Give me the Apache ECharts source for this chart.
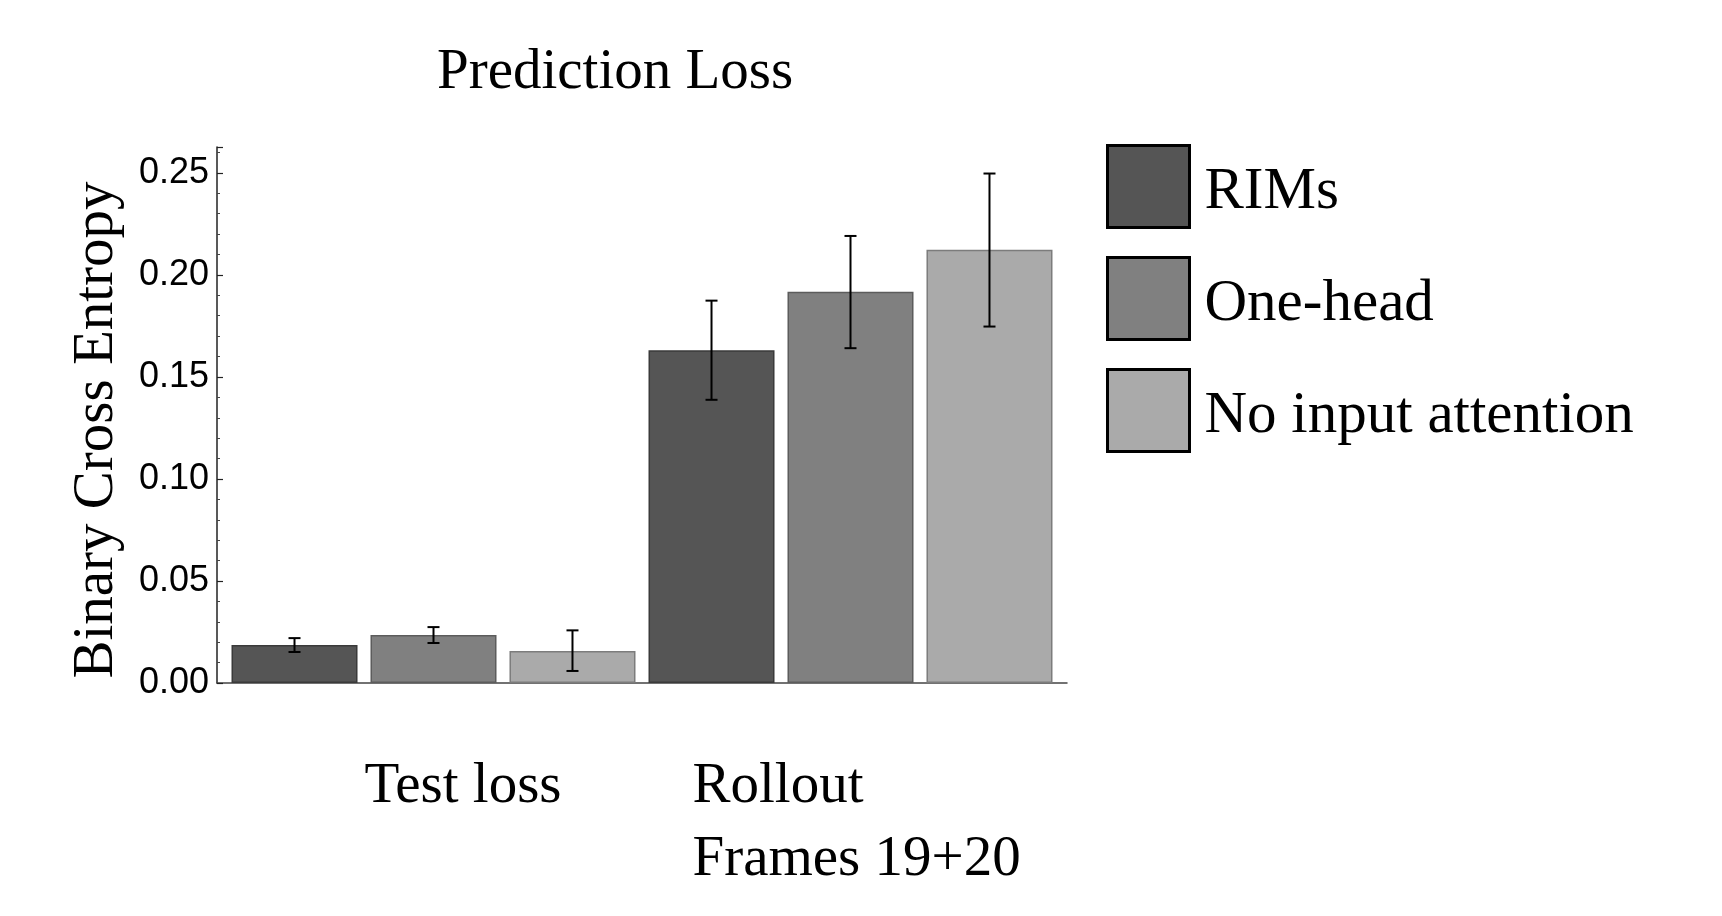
<!DOCTYPE html>
<html>
<head>
<meta charset="utf-8">
<script src="https://cdn.jsdelivr.net/npm/echarts@6/dist/echarts.min.js"></script>
<style>
  html, body { margin: 0; padding: 0; background: #fff; }
  #chart { width: 1722px; height: 916px; }
</style>
</head>
<body>
<div id="chart"></div>
<script>
// data
var categories = ['Test loss', 'Rollout\nFrames 19+20'];
var seriesNames = ['RIMs', 'One-head', 'No input attention'];
var rims = [0.0186, 0.1631];
var oneHead = [0.0235, 0.1917];
var noInput = [0.0157, 0.2123];
// error bar ends
var rimsLow = [0.0152, 0.1388], rimsHigh = [0.0220, 0.1874];
var oneHeadLow = [0.0196, 0.1641], oneHeadHigh = [0.0274, 0.2191];
var noInputLow = [0.0059, 0.1747], noInputHigh = [0.0258, 0.2497];
var yTicks = [0, 0.05, 0.10, 0.15, 0.20, 0.25];

var serif = 'Liberation Serif';
var sans = 'Liberation Sans';
var colors = ['#555555', '#808080', '#aaaaaa'];
var borders = ['#3a3a3a', '#5c5c5c', '#7c7c7c'];
var catGap = 0.0312, barGap = 0.103; // bar layout, also used by error bars
var yMax = 0.2627;

var values = [rims, oneHead, noInput];
var lows = [rimsLow, oneHeadLow, noInputLow];
var highs = [rimsHigh, oneHeadHigh, noInputHigh];

var series = [];
values.forEach(function (vals, i) {
    series.push({
        name: seriesNames[i],
        type: 'bar',
        xAxisIndex: 0,
        yAxisIndex: 0,
        data: vals,
        barGap: (barGap * 100) + '%',
        barCategoryGap: (catGap * 100) + '%',
        itemStyle: { color: colors[i], borderColor: borders[i], borderWidth: 1.5 },
        emphasis: { disabled: true },
        z: 2
    });
});
// error bars, drawn over the bars
values.forEach(function (vals, i) {
    var rows = vals.map(function (v, c) { return [c, lows[i][c], highs[i][c]]; });
    series.push({
        name: 'err' + i,
        type: 'custom',
        xAxisIndex: 0,
        yAxisIndex: 0,
        data: rows,
        z: 5,
        renderItem: function (params, api) {
            var c = api.value(0);
            var lo = api.coord([c, api.value(1)]);
            var hi = api.coord([c, api.value(2)]);
            var catW = api.size([1, 0])[0];
            var band = catW * (1 - catGap);
            var w = band / (3 + 2 * barGap);
            var x = lo[0] - band / 2 + w / 2 + i * (w + barGap * w);
            var cap = 6;
            var st = { stroke: '#000', lineWidth: 2 };
            return {
                type: 'group',
                children: [
                    { type: 'line', shape: { x1: x, y1: lo[1], x2: x, y2: hi[1] }, style: st },
                    { type: 'line', shape: { x1: x - cap, y1: lo[1], x2: x + cap, y2: lo[1] }, style: st },
                    { type: 'line', shape: { x1: x - cap, y1: hi[1], x2: x + cap, y2: hi[1] }, style: st }
                ]
            };
        }
    });
});

var option = {
    backgroundColor: '#fff',
    animation: false,
    title: {
        text: 'Prediction Loss',
        left: 432,
        top: 40,
        textStyle: { fontFamily: serif, fontSize: 57, fontWeight: 'normal', color: '#000' }
    },
    legend: {
        data: seriesNames,
        orient: 'vertical',
        left: 1101,
        top: 139,
        itemWidth: 82,
        itemHeight: 82,
        itemGap: 27,
        icon: 'rect',
        selectedMode: false,
        itemStyle: { borderColor: '#000', borderWidth: 3 },
        formatter: '{n|{name}}',
        textStyle: {
            fontFamily: serif, fontSize: 59, color: '#000',
            rich: { n: { fontFamily: serif, fontSize: 59, color: '#000', padding: [12, 0, 0, 10] } }
        }
    },
    grid: [
        // bars
        { left: 225, width: 834, top: 147, bottom: 233, containLabel: false },
        // axis frame
        { left: 217, width: 850, top: 147, bottom: 233, containLabel: false }
    ],
    xAxis: [
        {
            type: 'category',
            gridIndex: 0,
            data: categories,
            axisLine: { show: false },
            axisTick: { show: false },
            axisLabel: {
                interval: 0,
                margin: 68,
                fontFamily: serif,
                fontSize: 57,
                color: '#000',
                formatter: function (v, idx) {
                    if (idx === 0) return '{t|' + v + '}';
                    var p = v.split('\n');
                    return '{r|' + p[0] + '}\n{r|' + p[1] + '}';
                },
                rich: {
                    t: { fontFamily: serif, fontSize: 57, color: '#000', lineHeight: 73, padding: [0, 0, 0, 59] },
                    r: { fontFamily: serif, fontSize: 57, color: '#000', lineHeight: 73, width: 335, align: 'left', padding: [0, 0, 0, 19] }
                }
            }
        },
        {
            type: 'value',
            gridIndex: 1,
            min: 0,
            max: 1,
            axisLine: { show: true, lineStyle: { color: '#444', width: 1.5 } },
            axisTick: { show: false },
            axisLabel: { show: false },
            splitLine: { show: false }
        }
    ],
    yAxis: [
        {
            type: 'value',
            gridIndex: 0,
            min: 0,
            max: yMax,
            show: false,
            splitLine: { show: false }
        },
        {
            type: 'value',
            gridIndex: 1,
            min: 0,
            max: yMax,
            interval: yTicks[1] - yTicks[0],
            name: 'Binary Cross Entropy',
            nameLocation: 'middle',
            nameGap: 91,
            nameTextStyle: { fontFamily: serif, fontSize: 57, color: '#000', padding: [0, 30, 0, 0] },
            axisLine: { show: true, lineStyle: { color: '#222', width: 1.5 } },
            axisTick: { show: true, inside: true, length: 6, lineStyle: { color: '#222', width: 1.2 } },
            minorTick: { show: true, splitNumber: 5, length: 3, lineStyle: { color: '#444', width: 1 } },
            splitLine: { show: false },
            axisLabel: {
                showMaxLabel: false,
                margin: 8,
                fontFamily: sans,
                fontSize: 36,
                color: '#000',
                formatter: function (v) { return v.toFixed(2); }
            }
        }
    ],
    series: series
};

var chart = echarts.init(document.getElementById('chart'));
chart.setOption(option);
</script>
</body>
</html>
